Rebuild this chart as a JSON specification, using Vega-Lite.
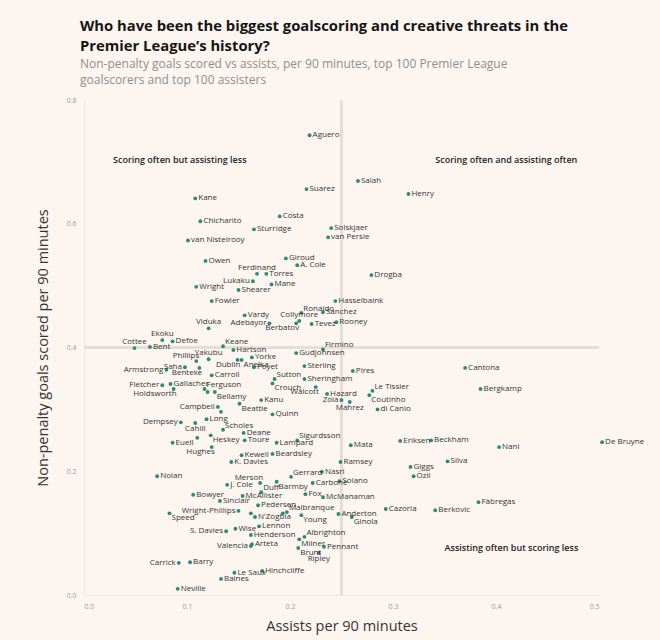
{
  "$schema": "https://vega.github.io/schema/vega-lite/v6.json",
  "width": 515,
  "height": 495,
  "autosize": {"type": "none"},
  "padding": {"left": 84, "top": 100, "right": 61, "bottom": 45},
  "background": "#fdf6f0",
  "config": {
    "view": {"stroke": null},
    "font": "Open Sans",
    "axis": {"grid": false, "ticks": false, "domainColor": "#ece6e0", "labelColor": "#9a9a9a", "labelFontSize": 7, "titleColor": "#333333", "titleFontSize": 14.5, "titleFontWeight": "normal", "labelFont": "Open Sans", "titleFont": "Open Sans"},
    "text": {"fontSize": 8, "color": "#333333", "font": "Open Sans"}
  },
  "title": {
    "text": ["Who have been the biggest goalscoring and creative threats in the", "Premier League’s history?"],
    "subtitle": ["Non-penalty goals scored vs assists, per 90 minutes, top 100 Premier League", "goalscorers and top 100 assisters"],
    "anchor": "start",
    "frame": "group",
    "dx": -4,
    "offset": 10,
    "font": "Open Sans",
    "fontSize": 14.8,
    "fontWeight": "bold",
    "color": "#151515",
    "lineHeight": 20,
    "subtitleFont": "Open Sans",
    "subtitleFontSize": 12,
    "subtitleColor": "#8f8f8f",
    "subtitleLineHeight": 16,
    "subtitlePadding": 5
  },
  "datasets": {
    "players": [
      {"name": "Aguero", "assists": 0.219, "goals": 0.743},
      {"name": "Salah", "assists": 0.266, "goals": 0.669},
      {"name": "Henry", "assists": 0.315, "goals": 0.648},
      {"name": "Suarez", "assists": 0.216, "goals": 0.656},
      {"name": "Kane", "assists": 0.108, "goals": 0.641},
      {"name": "Costa", "assists": 0.190, "goals": 0.612},
      {"name": "Chicharito", "assists": 0.113, "goals": 0.604},
      {"name": "Sturridge", "assists": 0.165, "goals": 0.591},
      {"name": "Solskjaer", "assists": 0.240, "goals": 0.593},
      {"name": "van Persie", "assists": 0.237, "goals": 0.578},
      {"name": "van Nistelrooy", "assists": 0.101, "goals": 0.573},
      {"name": "Giroud", "assists": 0.196, "goals": 0.544},
      {"name": "Owen", "assists": 0.118, "goals": 0.540},
      {"name": "A. Cole", "assists": 0.207, "goals": 0.533},
      {"name": "Ferdinand", "assists": 0.168, "goals": 0.519},
      {"name": "Torres", "assists": 0.177, "goals": 0.519},
      {"name": "Lukaku", "assists": 0.164, "goals": 0.507},
      {"name": "Drogba", "assists": 0.279, "goals": 0.517},
      {"name": "Mane", "assists": 0.182, "goals": 0.502},
      {"name": "Wright", "assists": 0.109, "goals": 0.498},
      {"name": "Shearer", "assists": 0.150, "goals": 0.493},
      {"name": "Fowler", "assists": 0.124, "goals": 0.475},
      {"name": "Hasselbaink", "assists": 0.244, "goals": 0.475},
      {"name": "Ronaldo", "assists": 0.211, "goals": 0.456},
      {"name": "Sanchez", "assists": 0.232, "goals": 0.457},
      {"name": "Vardy", "assists": 0.156, "goals": 0.452},
      {"name": "Adebayor", "assists": 0.180, "goals": 0.439},
      {"name": "Berbatov", "assists": 0.206, "goals": 0.439},
      {"name": "Collymore", "assists": 0.209, "goals": 0.443},
      {"name": "Tevez", "assists": 0.221, "goals": 0.438},
      {"name": "Rooney", "assists": 0.245, "goals": 0.441},
      {"name": "Viduka", "assists": 0.121, "goals": 0.431},
      {"name": "Ekoku", "assists": 0.076, "goals": 0.412},
      {"name": "Defoe", "assists": 0.086, "goals": 0.410},
      {"name": "Cottee", "assists": 0.049, "goals": 0.399},
      {"name": "Bent", "assists": 0.064, "goals": 0.401},
      {"name": "Keane", "assists": 0.135, "goals": 0.402},
      {"name": "Firmino", "assists": 0.232, "goals": 0.397},
      {"name": "Hartson", "assists": 0.145, "goals": 0.396},
      {"name": "Gudjohnsen", "assists": 0.206, "goals": 0.391},
      {"name": "Yakubu", "assists": 0.121, "goals": 0.381},
      {"name": "Yorke", "assists": 0.163, "goals": 0.384},
      {"name": "Dublin", "assists": 0.149, "goals": 0.380},
      {"name": "Anelka", "assists": 0.153, "goals": 0.380},
      {"name": "Phillips", "assists": 0.109, "goals": 0.378},
      {"name": "Saha", "assists": 0.098, "goals": 0.368},
      {"name": "Armstrong", "assists": 0.080, "goals": 0.364},
      {"name": "Benteke", "assists": 0.112, "goals": 0.367},
      {"name": "Carroll", "assists": 0.124, "goals": 0.355},
      {"name": "Poyet", "assists": 0.165, "goals": 0.368},
      {"name": "Sterling", "assists": 0.214, "goals": 0.370},
      {"name": "Pires", "assists": 0.261, "goals": 0.362},
      {"name": "Sutton", "assists": 0.185, "goals": 0.349},
      {"name": "Sheringham", "assists": 0.214, "goals": 0.349},
      {"name": "Crouch", "assists": 0.183, "goals": 0.342},
      {"name": "Fletcher", "assists": 0.076, "goals": 0.339},
      {"name": "Gallacher", "assists": 0.084, "goals": 0.341},
      {"name": "Holdsworth", "assists": 0.087, "goals": 0.333},
      {"name": "Ferguson", "assists": 0.117, "goals": 0.333},
      {"name": "Bellamy", "assists": 0.127, "goals": 0.328},
      {"name": "", "assists": 0.120, "goals": 0.328},
      {"name": "Walcott", "assists": 0.225, "goals": 0.336},
      {"name": "Hazard", "assists": 0.236, "goals": 0.325},
      {"name": "Le Tissier", "assists": 0.280, "goals": 0.330},
      {"name": "Coutinho", "assists": 0.277, "goals": 0.323},
      {"name": "Kanu", "assists": 0.172, "goals": 0.315},
      {"name": "Zola", "assists": 0.250, "goals": 0.315},
      {"name": "Mahrez", "assists": 0.258, "goals": 0.312},
      {"name": "di Canio", "assists": 0.285, "goals": 0.300},
      {"name": "Beattie", "assists": 0.151, "goals": 0.309},
      {"name": "Campbell", "assists": 0.130, "goals": 0.304},
      {"name": "", "assists": 0.133, "goals": 0.296},
      {"name": "Quinn", "assists": 0.183, "goals": 0.292},
      {"name": "Long", "assists": 0.119, "goals": 0.284},
      {"name": "Dempsey", "assists": 0.094, "goals": 0.279},
      {"name": "Cahill", "assists": 0.108, "goals": 0.278},
      {"name": "Scholes", "assists": 0.135, "goals": 0.267},
      {"name": "Deane", "assists": 0.155, "goals": 0.262},
      {"name": "Heskey", "assists": 0.123, "goals": 0.258},
      {"name": "", "assists": 0.110, "goals": 0.254},
      {"name": "Toure", "assists": 0.156, "goals": 0.250},
      {"name": "Euell", "assists": 0.086, "goals": 0.246},
      {"name": "Hughes", "assists": 0.124, "goals": 0.239},
      {"name": "Kewell", "assists": 0.153, "goals": 0.226},
      {"name": "K. Davies", "assists": 0.143, "goals": 0.215},
      {"name": "Nolan", "assists": 0.071, "goals": 0.192},
      {"name": "Sigurdsson", "assists": 0.207, "goals": 0.250},
      {"name": "Lampard", "assists": 0.187, "goals": 0.246},
      {"name": "Beardsley", "assists": 0.183, "goals": 0.228},
      {"name": "Mata", "assists": 0.259, "goals": 0.242},
      {"name": "Eriksen", "assists": 0.307, "goals": 0.249},
      {"name": "Beckham", "assists": 0.337, "goals": 0.250},
      {"name": "Ramsey", "assists": 0.249, "goals": 0.215},
      {"name": "Giggs", "assists": 0.317, "goals": 0.207},
      {"name": "Nasri", "assists": 0.231, "goals": 0.199},
      {"name": "Gerrard", "assists": 0.201, "goals": 0.191},
      {"name": "Cantona", "assists": 0.370, "goals": 0.367},
      {"name": "Bergkamp", "assists": 0.385, "goals": 0.333},
      {"name": "Nani", "assists": 0.403, "goals": 0.239},
      {"name": "De Bruyne", "assists": 0.503, "goals": 0.247},
      {"name": "Silva", "assists": 0.353, "goals": 0.216},
      {"name": "Özil", "assists": 0.320, "goals": 0.192},
      {"name": "Fàbregas", "assists": 0.383, "goals": 0.150},
      {"name": "Berkovic", "assists": 0.341, "goals": 0.137},
      {"name": "Cazorla", "assists": 0.293, "goals": 0.139},
      {"name": "Anderton", "assists": 0.247, "goals": 0.131},
      {"name": "Ginola", "assists": 0.260, "goals": 0.126},
      {"name": "Solano", "assists": 0.248, "goals": 0.184},
      {"name": "Carbone", "assists": 0.222, "goals": 0.181},
      {"name": "Barmby", "assists": 0.187, "goals": 0.183},
      {"name": "Fox", "assists": 0.215, "goals": 0.163},
      {"name": "McManaman", "assists": 0.232, "goals": 0.158},
      {"name": "Merson", "assists": 0.171, "goals": 0.181},
      {"name": "J. Cole", "assists": 0.139, "goals": 0.178},
      {"name": "Duff", "assists": 0.172, "goals": 0.166},
      {"name": "McAllister", "assists": 0.154, "goals": 0.160},
      {"name": "Bowyer", "assists": 0.106, "goals": 0.162},
      {"name": "Sinclair", "assists": 0.132, "goals": 0.152},
      {"name": "Pedersen", "assists": 0.169, "goals": 0.145},
      {"name": "Wright-Phillips", "assists": 0.150, "goals": 0.136},
      {"name": "Speed", "assists": 0.083, "goals": 0.132},
      {"name": "N'Zogbia", "assists": 0.166, "goals": 0.126},
      {"name": "", "assists": 0.162, "goals": 0.132},
      {"name": "Malbranque", "assists": 0.197, "goals": 0.134},
      {"name": "", "assists": 0.193, "goals": 0.132},
      {"name": "Young", "assists": 0.211, "goals": 0.129},
      {"name": "Lennon", "assists": 0.170, "goals": 0.111},
      {"name": "S. Davies", "assists": 0.138, "goals": 0.103},
      {"name": "Wise", "assists": 0.147, "goals": 0.107},
      {"name": "Henderson", "assists": 0.162, "goals": 0.097},
      {"name": "Arteta", "assists": 0.163, "goals": 0.082},
      {"name": "Valencia", "assists": 0.162, "goals": 0.079},
      {"name": "Albrighton", "assists": 0.214, "goals": 0.094},
      {"name": "Milner", "assists": 0.209, "goals": 0.090},
      {"name": "Brunt", "assists": 0.208, "goals": 0.076},
      {"name": "Pennant", "assists": 0.233, "goals": 0.078},
      {"name": "Ripley", "assists": 0.228, "goals": 0.068},
      {"name": "Carrick", "assists": 0.092, "goals": 0.052},
      {"name": "Barry", "assists": 0.103, "goals": 0.053},
      {"name": "Le Saux", "assists": 0.146, "goals": 0.036},
      {"name": "Hinchcliffe", "assists": 0.173, "goals": 0.039},
      {"name": "Baines", "assists": 0.133, "goals": 0.026},
      {"name": "Neville", "assists": 0.091, "goals": 0.010}
    ],
    "quadrants": [
      {"label": "Scoring often but assisting less", "assists": 0.093, "goals": 0.703},
      {"label": "Scoring often and assisting often", "assists": 0.41, "goals": 0.703},
      {"label": "Assisting often but scoring less", "assists": 0.415, "goals": 0.076}
    ]
  },
  "data": {"name": "players"},
  "encoding": {
    "x": {"field": "assists", "type": "quantitative", "title": "Assists per 90 minutes",
          "scale": {"domain": [0, 0.5], "nice": false, "zero": true},
          "axis": {"values": [0, 0.1, 0.2, 0.3, 0.4, 0.5], "format": ".1f", "labelPadding": 7, "titlePadding": 10}},
    "y": {"field": "goals", "type": "quantitative", "title": "Non-penalty goals scored per 90 minutes",
          "scale": {"domain": [0, 0.8], "nice": false, "zero": true},
          "axis": {"values": [0, 0.2, 0.4, 0.6, 0.8], "format": ".1f", "labelPadding": 8, "titlePadding": 16}}
  },
  "layer": [
    {
      "mark": {"type": "rule", "color": "#e2ddd8", "strokeWidth": 1.5},
      "encoding": {"x": {"datum": 0.25, "type": "quantitative"}, "y": null}
    },
    {
      "mark": {"type": "rule", "color": "#e2ddd8", "strokeWidth": 1.5},
      "encoding": {"y": {"datum": 0.4, "type": "quantitative"}, "x": null}
    },
    {
      "mark": {"type": "circle", "size": 15, "color": "#2b8a78", "opacity": 1}
    },
    {
      "transform": [
        {"filter": "datum.name"},
        {"filter": {"not": {"field": "name", "oneOf": ["Lukaku","Adebayor","Saha","Armstrong","Fletcher","Zola","Campbell","Dempsey","Wright-Phillips","S. Davies","Valencia","Carrick","Phillips","Merson","Benteke","Dublin","Holdsworth","Hughes","Berbatov","Walcott","Ferdinand","Collymore","Viduka","Ekoku","Cottee","Yakubu","Mahrez","Cahill","Ripley","Ferguson","Scholes","Duff","Gerrard","Malbranque","Albrighton","Ronaldo","Le Tissier","Sutton","Keane","Sigurdsson","Firmino","Bellamy","Heskey","Barmby","Speed","Young","Milner","Brunt","Coutinho","Crouch","Anelka","Ginola","Beattie"]}}}
      ],
      "mark": {"type": "text", "align": "left", "baseline": "middle", "dx": 3},
      "encoding": {"text": {"field": "name"}}
    },
    {
      "transform": [{"filter": {"field": "name", "oneOf": ["Lukaku","Adebayor","Saha","Armstrong","Fletcher","Zola","Campbell","Dempsey","Wright-Phillips","S. Davies","Valencia","Carrick"]}}],
      "mark": {"type": "text", "align": "right", "baseline": "middle", "dx": -3},
      "encoding": {"text": {"field": "name"}}
    },
    {
      "transform": [{"filter": {"field": "name", "oneOf": ["Phillips","Merson"]}}],
      "mark": {"type": "text", "align": "right", "baseline": "bottom", "dx": 3, "dy": -1},
      "encoding": {"text": {"field": "name"}}
    },
    {
      "transform": [{"filter": {"field": "name", "oneOf": ["Benteke","Dublin","Holdsworth","Hughes","Berbatov","Walcott"]}}],
      "mark": {"type": "text", "align": "right", "baseline": "top", "dx": 3, "dy": 1},
      "encoding": {"text": {"field": "name"}}
    },
    {
      "transform": [{"filter": {"field": "name", "oneOf": ["Ferdinand","Collymore","Viduka","Ekoku","Cottee","Yakubu"]}}],
      "mark": {"type": "text", "align": "center", "baseline": "bottom", "dy": -2},
      "encoding": {"text": {"field": "name"}}
    },
    {
      "transform": [{"filter": {"field": "name", "oneOf": ["Mahrez","Cahill","Ripley"]}}],
      "mark": {"type": "text", "align": "center", "baseline": "top", "dy": 2},
      "encoding": {"text": {"field": "name"}}
    },
    {
      "transform": [{"filter": {"field": "name", "oneOf": ["Ferguson","Scholes","Duff","Gerrard","Malbranque","Albrighton","Ronaldo","Le Tissier","Sutton","Keane","Sigurdsson","Firmino"]}}],
      "mark": {"type": "text", "align": "left", "baseline": "bottom", "dx": 2, "dy": 0},
      "encoding": {"text": {"field": "name"}}
    },
    {
      "transform": [{"filter": {"field": "name", "oneOf": ["Bellamy","Heskey","Barmby","Speed","Young","Milner","Brunt","Coutinho","Crouch","Anelka","Ginola","Beattie"]}}],
      "mark": {"type": "text", "align": "left", "baseline": "top", "dx": 2, "dy": 1},
      "encoding": {"text": {"field": "name"}}
    },
    {
      "data": {"name": "quadrants"},
      "mark": {"type": "text", "align": "center", "baseline": "middle", "fontSize": 9, "fontWeight": 600, "color": "#222222"},
      "encoding": {"text": {"field": "label"}}
    }
  ]
}
